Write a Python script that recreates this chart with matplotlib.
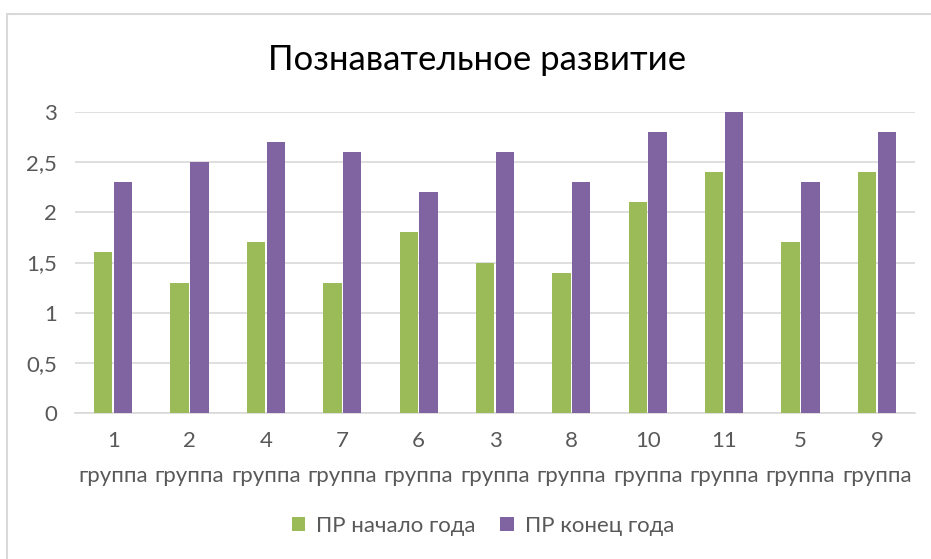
import matplotlib
matplotlib.use("Agg")
import matplotlib.pyplot as plt
from matplotlib.patches import Rectangle
import numpy as np

categories = ["1\nгруппа", "2\nгруппа", "4\nгруппа", "7\nгруппа", "6\nгруппа", "3\nгруппа",
              "8\nгруппа", "10\nгруппа", "11\nгруппа", "5\nгруппа", "9\nгруппа"]
start_year = [1.6, 1.3, 1.7, 1.3, 1.8, 1.5, 1.4, 2.1, 2.4, 1.7, 2.4]
end_year = [2.3, 2.5, 2.7, 2.6, 2.2, 2.6, 2.3, 2.8, 3.0, 2.3, 2.8]
series_names = ["ПР начало года", "ПР конец года"]
title = "Познавательное развитие"
yticks = [0, 0.5, 1, 1.5, 2, 2.5, 3]
ytick_labels = ["0", "0,5", "1", "1,5", "2", "2,5", "3"]

W, H = 931, 559
plt.rcParams['font.family'] = ['Lato', 'DejaVu Sans']
fig = plt.figure(figsize=(W / 100, H / 100), dpi=100)

# chart border (extends past right/bottom edge)
fig.patches.append(Rectangle((7 / W, -0.1), 1.2, (H - 14) / H + 0.1, transform=fig.transFigure,
                             fill=False, edgecolor="#d9d9d9", linewidth=1.5))

ax = fig.add_axes([75 / W, 1 - 413 / H, 840 / W, (413 - 112) / H])
x = np.arange(len(categories))
bw = 0.24
gap = 0.02
green = "#9bbb59"
purple = "#8064a2"
ax.bar(x - bw / 2 - gap / 2, start_year, bw, color=green, label=series_names[0], zorder=3)
ax.bar(x + bw / 2 + gap / 2, end_year, bw, color=purple, label=series_names[1], zorder=3)

ax.set_xlim(-0.5, len(categories) - 0.5)
ax.set_ylim(0, 3)
ax.set_yticks(yticks)
ax.set_yticklabels(ytick_labels)
ax.set_xticks(x)
ax.set_xticklabels(categories, linespacing=1.95)
ax.grid(axis="y", color="#d9d9d9", linewidth=1.2, zorder=0)
for s in ["top", "right", "left"]:
    ax.spines[s].set_visible(False)
ax.spines["bottom"].set_color("#d9d9d9")
ax.spines["bottom"].set_linewidth(1.2)
ax.tick_params(axis="both", length=0, labelsize=16, colors="#595959")
ax.tick_params(axis="y", pad=13)
ax.tick_params(axis="x", pad=13)

fig.text(0.5 * (271 + 683) / W, 1 - 60 / H, title, ha="center", va="center", fontsize=25, color="#000000")

leg = fig.legend(loc="center", bbox_to_anchor=(483 / W, 1 - 526 / H), ncol=2, frameon=False,
                 fontsize=16, handlelength=0.6, handleheight=0.6, columnspacing=1.1, handletextpad=0.5)
for t in leg.get_texts():
    t.set_color("#595959")

fig.savefig("out.png", dpi=100)
